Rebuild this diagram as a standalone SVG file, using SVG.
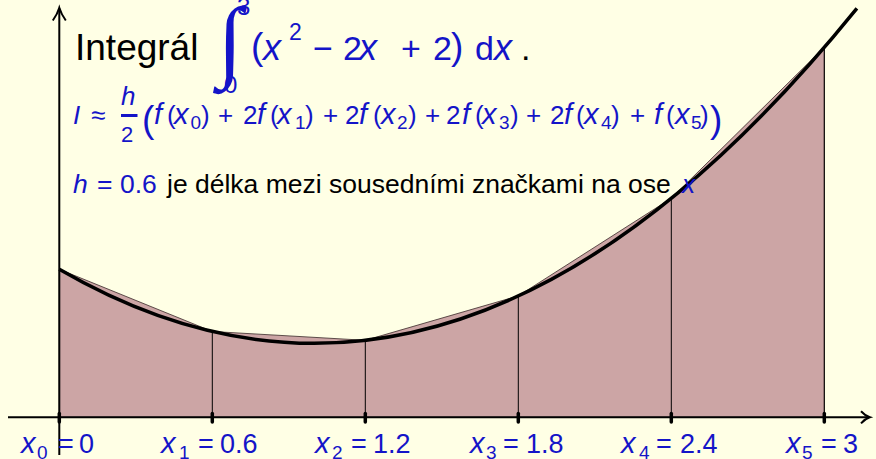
<svg xmlns="http://www.w3.org/2000/svg" width="876" height="459" viewBox="0 0 876 459">
<style>
text { font-family: "Liberation Sans", Arial, sans-serif; }
.b { fill: #1414c8; }
.k { fill: #000000; }
.it { font-style: italic; }
.ax { stroke: #000; stroke-width: 2; fill: none; }
.tick { stroke: #000; stroke-width: 3.5; stroke-linecap: round; }
.ord { stroke: #000; stroke-width: 1; }
.l2 { font-size: 26px; }
.s2 { font-size: 19px; }
.lab { font-size: 27px; }
.slab { font-size: 19px; }
</style>
<rect width="876" height="459" fill="#ffffe5"/>
<g id="trapezoids">
<polygon points="59.3,417.3 59.3,269.3 212.3,331.5 365.3,340.3 518.3,295.9 671.3,198.3 824.3,47.3 824.3,417.3" fill="#cca5a5" stroke="#3a2a2a" stroke-width="0.8"/>
<line class="ord" x1="212.3" y1="417.3" x2="212.3" y2="331.5"/>
<line class="ord" x1="365.3" y1="417.3" x2="365.3" y2="340.3"/>
<line class="ord" x1="518.3" y1="417.3" x2="518.3" y2="295.9"/>
<line class="ord" x1="671.3" y1="417.3" x2="671.3" y2="198.3"/>
<line class="ord" x1="824.3" y1="417.3" x2="824.3" y2="47.3"/>
</g>
<g id="curve">
<path d="M59.3,269.3 Q458.1,500.8 856.9,8.3" fill="none" stroke="#000" stroke-width="3.5"/>
</g>
<g id="axes">
<line class="ax" x1="8" y1="417.3" x2="869" y2="417.3"/>
<path class="ax" d="M861,411.2 Q865.5,416 869.8,417.3 Q865.5,418.6 861,423.4"/>
<line class="ax" x1="59.3" y1="455" x2="59.3" y2="8.5"/>
<path class="ax" d="M52.8,20.5 Q57.5,14 59.3,7.8 Q61.1,14 65.8,20.5"/>
<line class="tick" x1="59.3" y1="413.5" x2="59.3" y2="422"/>
<line class="tick" x1="212.3" y1="413.5" x2="212.3" y2="422"/>
<line class="tick" x1="365.3" y1="413.5" x2="365.3" y2="422"/>
<line class="tick" x1="518.3" y1="413.5" x2="518.3" y2="422"/>
<line class="tick" x1="671.3" y1="413.5" x2="671.3" y2="422"/>
<line class="tick" x1="824.3" y1="413.5" x2="824.3" y2="422"/>
</g>
<g id="labels">
<text class="lab b"><tspan class="it" x="21" y="453" font-size="29">x</tspan><tspan class="slab" x="37" y="459">0</tspan><tspan x="58" y="453">=</tspan><tspan x="79" y="453">0</tspan></text>
<text class="lab b"><tspan class="it" x="161" y="453" font-size="29">x</tspan><tspan class="slab" x="179" y="459">1</tspan><tspan x="198" y="453">=</tspan><tspan x="220" y="453">0.6</tspan></text>
<text class="lab b"><tspan class="it" x="315" y="453" font-size="29">x</tspan><tspan class="slab" x="332" y="459">2</tspan><tspan x="351" y="453">=</tspan><tspan x="373" y="453">1.2</tspan></text>
<text class="lab b"><tspan class="it" x="470" y="453" font-size="29">x</tspan><tspan class="slab" x="486" y="459">3</tspan><tspan x="503" y="453">=</tspan><tspan x="526" y="453">1.8</tspan></text>
<text class="lab b"><tspan class="it" x="621" y="453" font-size="29">x</tspan><tspan class="slab" x="639" y="459">4</tspan><tspan x="656" y="453">=</tspan><tspan x="680" y="453">2.4</tspan></text>
<text class="lab b"><tspan class="it" x="786" y="453" font-size="29">x</tspan><tspan class="slab" x="802" y="459">5</tspan><tspan x="821" y="453">=</tspan><tspan x="843" y="453">3</tspan></text>
</g>
<g id="title">
<text x="75" y="60" font-size="37" class="k">Integrál</text>
<text x="217.5" y="70" font-size="90" class="b" style="font-family:'Liberation Serif',serif">∫</text>
<text x="237" y="15" font-size="24" class="b">3</text>
<text x="224" y="93" font-size="24" class="b">0</text>
<text class="b" font-size="34"><tspan x="251" y="59" font-size="37">(</tspan><tspan class="it" x="263" y="60" font-size="36">x</tspan><tspan x="289" y="40" font-size="23">2</tspan><tspan x="313" y="60">−</tspan><tspan x="343" y="60">2</tspan><tspan class="it" x="359" y="60" font-size="36">x</tspan><tspan x="401" y="60">+</tspan><tspan x="433" y="60">2</tspan><tspan x="451" y="59" font-size="37">)</tspan><tspan x="475" y="60">d</tspan><tspan class="it" x="494" y="60" font-size="36">x</tspan><tspan x="521" y="60" class="k">.</tspan></text>
</g>
<g id="formula">
<text class="l2 b"><tspan class="it" x="73" y="124">I</tspan><tspan x="91" y="124">≈</tspan><tspan class="it" x="121" y="105">h</tspan><tspan x="121" y="142" font-size="22">2</tspan><tspan x="142" y="132" font-size="37">(</tspan><tspan class="it" x="154" y="124" font-size="29">f</tspan><tspan x="167" y="124">(</tspan><tspan class="it" x="174" y="124" font-size="29">x</tspan><tspan class="s2" x="190.5" y="128.5">0</tspan><tspan x="201" y="124">)</tspan><tspan x="218" y="124">+</tspan><tspan x="243" y="124">2</tspan><tspan class="it" x="257" y="124" font-size="29">f</tspan><tspan x="270" y="124">(</tspan><tspan class="it" x="277" y="124" font-size="29">x</tspan><tspan class="s2" x="295" y="128.5">1</tspan><tspan x="305" y="124">)</tspan><tspan x="323" y="124">+</tspan><tspan x="345" y="124">2</tspan><tspan class="it" x="359" y="124" font-size="29">f</tspan><tspan x="373" y="124">(</tspan><tspan class="it" x="381" y="124" font-size="29">x</tspan><tspan class="s2" x="397" y="128.5">2</tspan><tspan x="408" y="124">)</tspan><tspan x="425" y="124">+</tspan><tspan x="446" y="124">2</tspan><tspan class="it" x="462" y="124" font-size="29">f</tspan><tspan x="475" y="124">(</tspan><tspan class="it" x="482" y="124" font-size="29">x</tspan><tspan class="s2" x="499" y="128.5">3</tspan><tspan x="510" y="124">)</tspan><tspan x="526" y="124">+</tspan><tspan x="550" y="124">2</tspan><tspan class="it" x="564" y="124" font-size="29">f</tspan><tspan x="576" y="124">(</tspan><tspan class="it" x="584" y="124" font-size="29">x</tspan><tspan class="s2" x="601" y="128.5">4</tspan><tspan x="611" y="124">)</tspan><tspan x="630" y="124">+</tspan><tspan class="it" x="654" y="124" font-size="29">f</tspan><tspan x="666" y="124">(</tspan><tspan class="it" x="675" y="124" font-size="29">x</tspan><tspan class="s2" x="691" y="128.5">5</tspan><tspan x="700" y="124">)</tspan><tspan x="710" y="132" font-size="37">)</tspan></text>
<line x1="121" y1="115.5" x2="137.5" y2="115.5" stroke="#1414c8" stroke-width="3"/>
</g>
<g id="note">
<text font-size="26.5"><tspan class="b it" x="73" y="193">h</tspan><tspan class="b" x="97" y="193">=</tspan><tspan class="b" x="120" y="193">0.6</tspan><tspan class="k" x="167" y="193">je délka mezi sousedními značkami na ose</tspan><tspan class="b it" x="682" y="193">x</tspan></text>
</g>
</svg>
